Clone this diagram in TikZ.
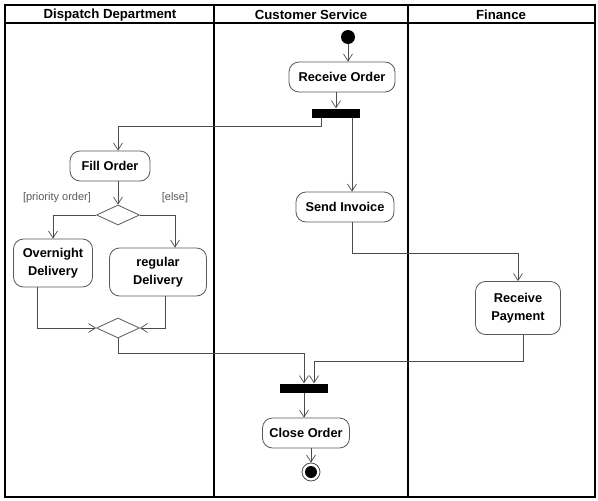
\documentclass[tikz,border=0pt]{standalone}
\usepackage{fontspec}
\setmainfont{Liberation Sans}
\usetikzlibrary{positioning, arrows.meta, shapes.geometric}
\tikzset{
  action/.style  = {rectangle, rounded corners=10pt, draw=black!65, line width=0.8pt, fill=white, font=\bfseries\fontsize{12.8}{18.5}\selectfont, align=center, minimum height=30pt},
  bar/.style     = {rectangle, fill=black, minimum width=48pt, minimum height=9pt, inner sep=0pt},
  branch/.style  = {diamond, draw=black!65, line width=0.8pt, fill=white, minimum width=43pt, minimum height=20pt, inner sep=0pt},
  guard/.style   = {font=\fontsize{11}{13}\selectfont, text=black!65},
  lanehead/.style= {font=\bfseries\fontsize{13.2}{15}\selectfont},
  lane/.style    = {line width=1.8pt},
  arr/.style     = {-{Straight Barb[length=7pt, width=9pt]}, draw=black!70, line width=0.7pt}
}

\begin{document}
\begin{tikzpicture}[x=1pt, y=-1pt]
        \useasboundingbox (0,0) rectangle (598,501);
        % swimlanes
        \draw[lane] (5,5) rectangle (595,497);
        \draw[lane] (5,23) -- (595,23);
        \draw[lane] (214,5) -- (214,497);
        \draw[lane] (408,5) -- (408,497);
        \node[lanehead] (dispatch) at (110,15) {Dispatch Department};
        \node[lanehead] (service)  at (311,15) {Customer Service};
        \node[lanehead] (finance)  at (501,15) {Finance};

        % activities
        \node[circle, fill=black, minimum size=14pt, inner sep=0pt] (start) at (348,37) {};
        \node[action, minimum width=106pt] (recv)  at (342,77)  {Receive Order};
        \node[bar]                         (fork)  at (336,113) {};
        \node[action, minimum width=80pt]  (fill)  at (110,166) {Fill Order};
        \node[branch]                      (pick)  at (118,215) {};
        \node[guard] (prio) at (57,198)  {[priority order]};
        \node[guard] (els)  at (175,198) {[else]};
        \node[action, minimum width=79pt, minimum height=48pt]  (night) at (53,263)  {Overnight\\Delivery};
        \node[action, minimum width=97pt, minimum height=48pt]  (reg)   at (158,272) {regular\\Delivery};
        \node[branch]                      (merge) at (118,328) {};
        \node[action, minimum width=98pt]  (inv)   at (345,207) {Send Invoice};
        \node[action, minimum width=85pt, minimum height=53pt]  (pay)   at (518,308) {Receive\\Payment};
        \node[bar]                         (join)  at (304,388) {};
        \node[action, minimum width=87pt]  (close) at (306,433) {Close Order};
        \node[circle, draw=black!70, line width=0.8pt, fill=white, minimum size=18pt, inner sep=0pt] (stop) at (311,472) {};
        \node[circle, fill=black, minimum size=12pt, inner sep=0pt] at (stop) {};

        % flows
        \draw[arr] (start) -- (start |- recv.north);
        \draw[arr] (fork.north |- recv.south) -- (fork.north);
        \draw[arr] ([xshift=-15pt]fork.south) -- ++(0,9) -| (fill.north -| pick.north);
        \draw[arr] ([xshift=16pt]fork.south) -- ([xshift=16pt]fork.south |- inv.north);
        \draw[arr] (fill.south -| pick.north) -- (pick.north);
        \draw[arr] (pick.west) -| (night.north);
        \draw[arr] (pick.east) -| ([xshift=17pt]reg.north);
        \draw[arr] ([xshift=-16pt]night.south) |- (merge.west);
        \draw[arr] ([xshift=7pt]reg.south) |- (merge.east);
        \draw[arr] (merge.south) -- ++(0,15) -| (join.north);
        \draw[arr] ([xshift=7pt]inv.south) -- ++(0,31) -| (pay.north);
        \draw[arr] ([xshift=5pt]pay.south) -- ++(0,26) -| ([xshift=10pt]join.north);
        \draw[arr] (join.south) -- (join.south |- close.north);
        \draw[arr] (close.south -| stop) -- (stop.north);
      \end{tikzpicture}
\end{document}
